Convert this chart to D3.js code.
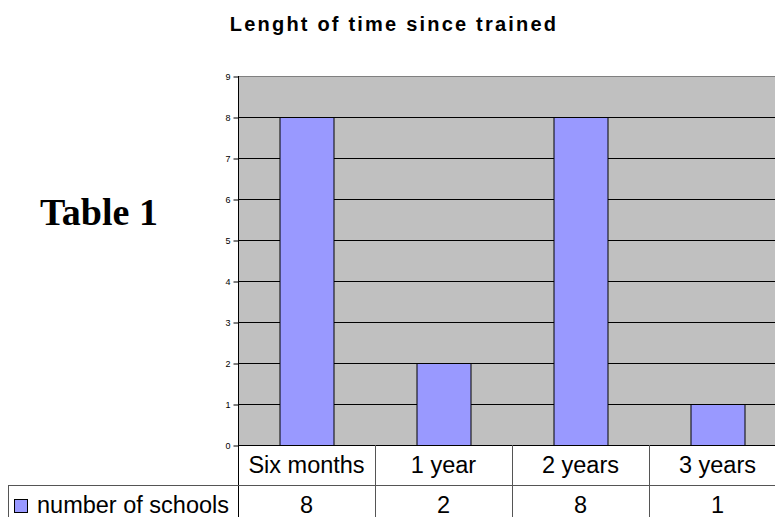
<!DOCTYPE html>
<html>
<head>
<meta charset="utf-8">
<style>
  body { margin: 0; background: #fff; }
  svg { display: block; }
</style>
</head>
<body>
<script src="https://d3js.org/d3.v7.min.js"></script>
<script>
// data
var categories = ["Six months", "1 year", "2 years", "3 years"];
var schools = [8, 2, 8, 1];
var seriesName = "number of schools";
var yTicks = [0, 1, 2, 3, 4, 5, 6, 7, 8, 9];
var chartTitle = "Lenght of time since trained";

var W = 775, H = 517;
var plotLeft = 238, plotTop = 76, plotBottom = 445, bandW = 137;
var sans = "Arial, 'Liberation Sans', sans-serif";

var svg = d3.select("body").append("svg").attr("width", W).attr("height", H);

var x = d3.scaleBand().domain(categories).range([plotLeft, plotLeft + bandW * categories.length]).padding(0);
var y = d3.scaleLinear().domain([0, 9]).range([plotBottom, plotTop]);

// plot background
svg.append("rect")
  .attr("x", plotLeft).attr("y", plotTop)
  .attr("width", x.range()[1] - plotLeft).attr("height", plotBottom - plotTop)
  .attr("fill", "#c0c0c0");

// gridlines
svg.selectAll("line.grid").data(yTicks.slice(1)).enter().append("line")
  .attr("class", "grid")
  .attr("x1", plotLeft).attr("x2", x.range()[1])
  .attr("y1", function(d) { return y(d) + 0.5; })
  .attr("y2", function(d) { return y(d) + 0.5; })
  .attr("stroke", function(d) { return d === 9 ? "#808080" : "#000"; }).attr("stroke-width", 1);

// bars
var barW = 54;
svg.selectAll("rect.bar").data(schools).enter().append("rect")
  .attr("class", "bar")
  .attr("x", function(d, i) { return x(categories[i]) + (bandW - barW) / 2 + 0.5; })
  .attr("y", function(d) { return y(d) + 0.5; })
  .attr("width", barW)
  .attr("height", function(d) { return plotBottom - y(d); })
  .attr("fill", "#9999ff").attr("stroke", "#000").attr("stroke-width", 1);

// y axis
var yAxis = d3.axisLeft(y).tickValues(yTicks).tickSize(5).tickPadding(3);
var ya = svg.append("g").attr("transform", "translate(" + (plotLeft + 0.5) + ",0.5)").call(yAxis);
ya.select(".domain").remove();
ya.selectAll("text").attr("font-family", sans).attr("font-size", 9).attr("fill", "#000");
ya.selectAll("line").attr("stroke", "#000");
svg.append("line").attr("x1", plotLeft + 0.5).attr("x2", plotLeft + 0.5).attr("y1", plotTop).attr("y2", H)
  .attr("stroke", "#000");

// data table
var row1 = 485;
svg.append("line").attr("x1", plotLeft).attr("x2", W).attr("y1", plotBottom + 0.5).attr("y2", plotBottom + 0.5).attr("stroke", "#000");
svg.append("line").attr("x1", 8).attr("x2", W).attr("y1", row1 + 0.5).attr("y2", row1 + 0.5).attr("stroke", "#555");
svg.append("line").attr("x1", 8.5).attr("x2", 8.5).attr("y1", row1).attr("y2", H).attr("stroke", "#555");
svg.selectAll("line.cell").data(categories.slice(1)).enter().append("line")
  .attr("class", "cell")
  .attr("x1", function(d) { return x(d) + 0.5; })
  .attr("x2", function(d) { return x(d) + 0.5; })
  .attr("y1", plotBottom).attr("y2", H)
  .attr("stroke", "#555");

svg.selectAll("text.cat").data(categories).enter().append("text")
  .attr("class", "cat")
  .attr("x", function(d) { return x(d) + bandW / 2; })
  .attr("y", 473)
  .attr("text-anchor", "middle")
  .attr("font-family", sans).attr("font-size", 23.5)
  .text(function(d) { return d; });

svg.selectAll("text.val").data(schools).enter().append("text")
  .attr("class", "val")
  .attr("x", function(d, i) { return x(categories[i]) + bandW / 2; })
  .attr("y", 513)
  .attr("text-anchor", "middle")
  .attr("font-family", sans).attr("font-size", 23.5)
  .text(function(d) { return d; });

// legend key
svg.append("rect").attr("x", 14.5).attr("y", 499.5).attr("width", 13).attr("height", 13)
  .attr("fill", "#9999ff").attr("stroke", "#000");
svg.append("text").attr("x", 37).attr("y", 513)
  .attr("font-family", sans).attr("font-size", 23.5)
  .text(seriesName);

// title
svg.append("text").attr("x", 394).attr("y", 31)
  .attr("text-anchor", "middle")
  .attr("font-family", sans).attr("font-size", 20)
  .attr("font-weight", "bold").attr("letter-spacing", 2.2)
  .text(chartTitle);

svg.append("text").attr("x", 40).attr("y", 225)
  .attr("font-family", "'Times New Roman', 'Liberation Serif', serif").attr("font-size", 38)
  .attr("font-weight", "bold")
  .text("Table 1");
</script>
</body>
</html>
